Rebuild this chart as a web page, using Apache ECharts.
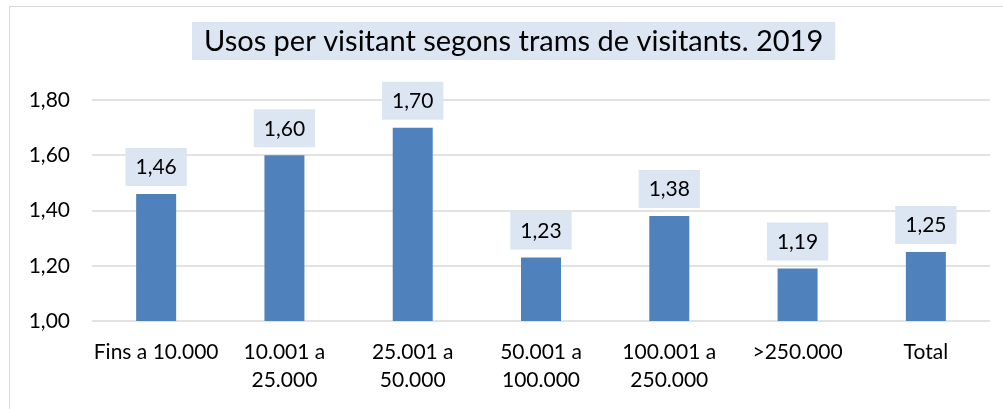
<!DOCTYPE html>
<html><head><meta charset="utf-8">
<script src="https://cdn.jsdelivr.net/npm/echarts@6/dist/echarts.min.js"></script>
<style>html,body{margin:0;padding:0;background:#fff}#c{width:1003px;height:409px}</style>
</head><body><div id="c"></div>
<script>
const categories = ['Fins a 10.000', '10.001 a\n25.000', '25.001 a\n50.000', '50.001 a\n100.000', '100.001 a\n250.000', '>250.000', 'Total'];
const values = [1.46, 1.60, 1.70, 1.23, 1.38, 1.19, 1.25];
const yTicks = { min: 1.0, max: 1.8, interval: 0.2 };
const titleText = 'Usos per visitant segons trams de visitants. 2019';
const FONT = 'Lato';
const chart = echarts.init(document.getElementById('c'), null, {renderer: 'canvas'});
const fmt = v => v.toFixed(2).replace('.', ',');
chart.setOption({
  animation: false,
  backgroundColor: '#fff',
  graphic: [{
    type: 'rect', shape: {x: 9.5, y: 6.5, width: 1010, height: 420},
    style: {fill: 'none', stroke: '#d9d9d9', lineWidth: 1}, silent: true, z: -1
  }],
  title: {
    text: titleText, left: 192, top: 22,
    backgroundColor: '#dce6f2', padding: [5, 12, 3, 12],
    textStyle: {fontFamily: FONT, fontSize: 29, lineHeight: 30, fontWeight: 'normal', color: '#000'}
  },
  grid: {left: 92, right: 13, top: 100, bottom: 88},
  xAxis: {
    type: 'category', data: categories,
    axisLine: {show: false}, axisTick: {show: false},
    axisLabel: {fontFamily: FONT, fontSize: 21, color: '#000', margin: 17, lineHeight: 28, interval: 0}
  },
  yAxis: {
    type: 'value', min: yTicks.min, max: yTicks.max, interval: yTicks.interval,
    axisLine: {show: false}, axisTick: {show: false},
    splitLine: {lineStyle: {color: '#d9d9d9', width: 1.5}},
    axisLabel: {fontFamily: FONT, fontSize: 21, color: '#000', margin: 22, formatter: v => fmt(v)}
  },
  series: [{
    type: 'bar', data: values, barWidth: 40,
    itemStyle: {color: '#4f81bd'},
    label: {
      show: true, position: 'top', distance: 8,
      formatter: p => fmt(p.value),
      fontFamily: FONT, fontSize: 21, lineHeight: 21, color: '#000',
      backgroundColor: '#dce6f2', padding: [9, 10, 8, 10]
    }
  }]
});
</script></body></html>
